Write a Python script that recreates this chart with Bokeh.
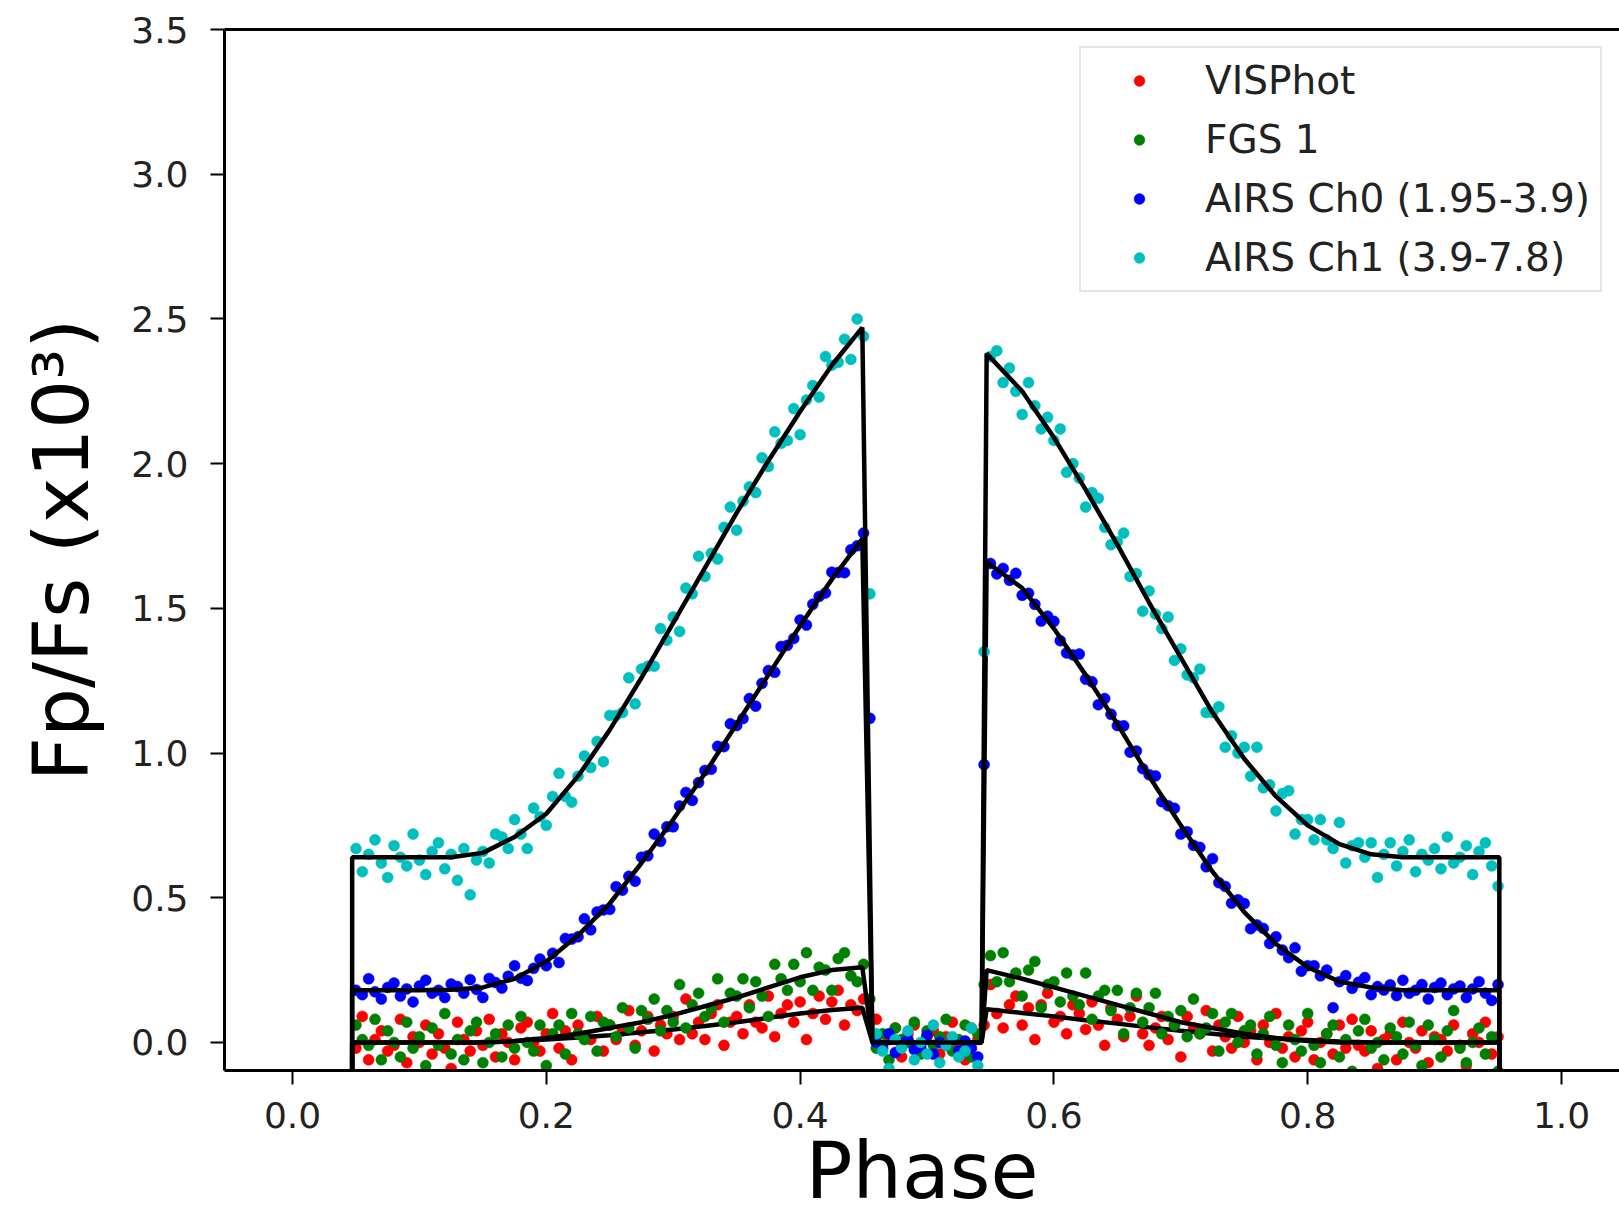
from bokeh.plotting import figure
from bokeh.models import Range1d, LinearAxis, FixedTicker, PrintfTickFormatter, Legend, LegendItem
from bokeh.embed import file_html
from bokeh.resources import INLINE

# ---------------- data ----------------
phase = [
    0.050, 0.055, 0.060, 0.065, 0.070, 0.075, 0.080, 0.085, 0.090, 0.095,
    0.100, 0.105, 0.110, 0.115, 0.120, 0.125, 0.130, 0.135, 0.140, 0.145,
    0.150, 0.155, 0.160, 0.165, 0.170, 0.175, 0.180, 0.185, 0.190, 0.195,
    0.200, 0.205, 0.210, 0.215, 0.220, 0.225, 0.230, 0.235, 0.240, 0.245,
    0.250, 0.255, 0.260, 0.265, 0.270, 0.275, 0.280, 0.285, 0.290, 0.295,
    0.300, 0.305, 0.310, 0.315, 0.320, 0.325, 0.330, 0.335, 0.340, 0.345,
    0.350, 0.355, 0.360, 0.365, 0.370, 0.375, 0.380, 0.385, 0.390, 0.395,
    0.400, 0.405, 0.410, 0.415, 0.420, 0.425, 0.430, 0.435, 0.440, 0.445,
    0.450, 0.455, 0.460, 0.465, 0.470, 0.475, 0.480, 0.485, 0.490, 0.495,
    0.500, 0.505, 0.510, 0.515, 0.520, 0.525, 0.530, 0.535, 0.540, 0.545,
    0.550, 0.555, 0.560, 0.565, 0.570, 0.575, 0.580, 0.585, 0.590, 0.595,
    0.600, 0.605, 0.610, 0.615, 0.620, 0.625, 0.630, 0.635, 0.640, 0.645,
    0.650, 0.655, 0.660, 0.665, 0.670, 0.675, 0.680, 0.685, 0.690, 0.695,
    0.700, 0.705, 0.710, 0.715, 0.720, 0.725, 0.730, 0.735, 0.740, 0.745,
    0.750, 0.755, 0.760, 0.765, 0.770, 0.775, 0.780, 0.785, 0.790, 0.795,
    0.800, 0.805, 0.810, 0.815, 0.820, 0.825, 0.830, 0.835, 0.840, 0.845,
    0.850, 0.855, 0.860, 0.865, 0.870, 0.875, 0.880, 0.885, 0.890, 0.895,
    0.900, 0.905, 0.910, 0.915, 0.920, 0.925, 0.930, 0.935, 0.940, 0.945,
    0.950,
]

visphot = [
    -0.02, 0.09, -0.06, 0.01, 0.04, -0.03, -0.01, 0.08, -0.07, 0.02, 0.0, 0.06, -0.04, 0.03, -0.02, -0.09, 0.07, 0.01, -0.03, 0.04, -0.01,
    0.08, -0.05, 0.03, 0.0, -0.06, 0.05, 0.07, 0.0, -0.03, 0.03, 0.10, -0.02, 0.04, -0.06, 0.06, 0.02, 0.01, 0.09, -0.03, 0.06,
    0.01, 0.04, 0.11, -0.01, 0.04, 0.09, -0.03, 0.06, 0.03, 0.09, 0.01, 0.15, 0.03, 0.07, 0.01, 0.10, 0.13, -0.01, 0.07, 0.09,
    0.03, 0.13, 0.07, 0.05, 0.16, 0.02, 0.10, 0.13, 0.07, 0.14, 0.01, 0.10, 0.16, 0.08, 0.14, 0.18, 0.06, 0.13, 0.11, 0.15,
    0.08,
    0.08, -0.01, 0.01, 0.05, -0.05, 0.03, 0.06, -0.02, 0.02, 0.04, -0.04, 0.02, 0.07, -0.01, -0.06, 0.05, 0.01,
    0.06,
    0.20, 0.10, 0.05, 0.13, 0.16, 0.06, 0.12, 0.01, 0.13, 0.17, 0.07, 0.09, 0.03, 0.13, 0.10, 0.045, 0.14, 0.06, -0.01, 0.12, 0.08,
    0.02, 0.09, 0.16, 0.03, -0.01, 0.05, 0.09, 0.01, 0.06, -0.05, 0.09, 0.05, 0.03, 0.11, -0.03, 0.06, 0.02, -0.02, 0.09, 0.0,
    0.04, -0.06, 0.06, 0.0, 0.10, -0.02, 0.02, -0.05, 0.04, 0.07, -0.06, 0.0, 0.03, -0.04, 0.06, -0.02, 0.08, -0.01, -0.03, 0.04,
    -0.09, 0.01, 0.03, -0.06, 0.07, 0.0, -0.02, 0.04, -0.07, 0.02, 0.01, -0.03, 0.06, -0.01, -0.08, 0.03, 0.0, 0.07, -0.04, 0.02,
]

fgs1 = [
    0.06, 0.01, -0.01, 0.08, -0.06, 0.04, 0.0, -0.05, 0.07, -0.02, 0.02, -0.08, 0.05, -0.01, 0.10, -0.04, 0.01, -0.06, 0.04, 0.07, -0.07,
    0.00, 0.03, -0.05, 0.06, -0.02, 0.09, 0.00, -0.03, 0.06, -0.08, 0.03, 0.06, -0.04, 0.10, 0.03, 0.01, 0.09, -0.03, 0.07, 0.06,
    0.02, 0.12, 0.05, -0.02, 0.11, 0.08, 0.15, 0.04, 0.11, 0.07, 0.20, 0.05, 0.13, 0.17, 0.09, 0.12, 0.22, 0.07, 0.17, 0.16,
    0.22, 0.12, 0.21, 0.16, 0.09, 0.27, 0.22, 0.18, 0.27, 0.21, 0.31, 0.18, 0.26, 0.25, 0.18, 0.29, 0.31, 0.23, 0.21, 0.27,
    0.15,
    -0.02, 0.03, -0.06, 0.05, 0.01, 0.0, 0.07, -0.04, 0.04, -0.01, 0.02, 0.08, -0.03, 0.01, 0.06, -0.05, 0.03,
    0.20,
    0.30, 0.21, 0.31, 0.21, 0.24, 0.16, 0.25, 0.28, 0.12, 0.20, 0.21, 0.14, 0.24, 0.16, 0.13, 0.24, 0.08, 0.16, 0.18, 0.11, 0.18,
    0.03, 0.12, 0.17, 0.07, 0.12, 0.17, 0.03, 0.09, 0.06, 0.11, 0.02, 0.15, 0.03, 0.05, 0.10, -0.03, 0.07, 0.10, 0.0, 0.04,
    0.06, -0.04, 0.03, 0.09, -0.01, -0.07, 0.06, 0.01, -0.03, 0.10, -0.01, -0.07, 0.03, 0.06, -0.05, 0.01, -0.10, 0.04, 0.08, -0.02,
    0.0, -0.06, 0.05, 0.02, -0.04, 0.07, -0.01, -0.08, 0.06, 0.01, -0.05, 0.04, 0.11, -0.02, -0.07, 0.0, 0.05, -0.04, 0.02, -0.10,
]

airs_ch0 = [
    0.18, 0.165, 0.22, 0.175, 0.15, 0.19, 0.205, 0.16, 0.185, 0.14, 0.195, 0.215, 0.17, 0.18, 0.155,
    0.202, 0.193, 0.17, 0.217, 0.183, 0.155, 0.221, 0.207, 0.188, 0.229, 0.265, 0.222, 0.214, 0.256, 0.288, 0.265,
    0.308, 0.276, 0.359, 0.357, 0.365, 0.427, 0.389, 0.451, 0.458, 0.46, 0.538, 0.526, 0.574, 0.557, 0.64, 0.645, 0.72, 0.695, 0.745, 0.745,
    0.817, 0.864, 0.836, 0.898, 0.94, 0.944, 1.023, 1.022, 1.101, 1.095, 1.119, 1.188, 1.162, 1.241, 1.285, 1.279, 1.368, 1.372, 1.396, 1.46,
    1.442, 1.514, 1.541, 1.553, 1.625, 1.624, 1.623, 1.702, 1.716, 1.76,
    1.12,
    0.0, -0.02, 0.03, -0.035, -0.005, 0.01, -0.025, -0.015, 0.025, -0.04, 0.0, -0.01, 0.015, -0.03, 0.005, -0.02, -0.05,
    0.96,
    1.655, 1.619, 1.638, 1.597, 1.621, 1.545, 1.552, 1.514, 1.456, 1.473, 1.455, 1.388, 1.346, 1.339, 1.342, 1.255, 1.246, 1.167, 1.188, 1.134, 1.095,
    1.094, 1.003, 1.007, 0.946, 0.925, 0.921, 0.832, 0.818, 0.809, 0.72, 0.728, 0.681, 0.674, 0.607, 0.635, 0.552, 0.539, 0.481, 0.493, 0.48,
    0.393, 0.406, 0.394, 0.342, 0.365, 0.319, 0.293, 0.327, 0.246, 0.265, 0.265, 0.23, 0.25, 0.12, 0.21, 0.231, 0.187, 0.208, 0.224, 0.165,
    0.193, 0.181, 0.199, 0.162, 0.215, 0.17, 0.18, 0.2, 0.15, 0.19, 0.205, 0.165, 0.185, 0.195, 0.155, 0.185, 0.21, 0.17, 0.145, 0.2,
]

airs_ch1 = [
    0.67, 0.59, 0.65, 0.70, 0.62, 0.57, 0.68, 0.64, 0.61, 0.72, 0.63, 0.58, 0.66, 0.69, 0.60, 0.65, 0.56,
    0.67, 0.51, 0.63, 0.66, 0.62, 0.72, 0.71, 0.67, 0.77, 0.72, 0.67, 0.81, 0.78, 0.75,
    0.85, 0.93, 0.85, 0.83, 0.92, 0.99, 0.95, 1.04, 0.97, 1.13, 1.13, 1.14, 1.26, 1.17, 1.29, 1.30, 1.30, 1.43, 1.39, 1.47,
    1.42, 1.57, 1.55, 1.68, 1.61, 1.69, 1.67, 1.78, 1.85, 1.77, 1.87, 1.92, 1.90, 2.02, 1.99, 2.11, 2.07, 2.08, 2.19, 2.10,
    2.22, 2.27, 2.23, 2.37, 2.34, 2.35, 2.43, 2.36, 2.50, 2.44,
    1.55,
    0.03, -0.03, -0.09, 0.01, -0.02, 0.04, -0.06, 0.00, -0.04, 0.06, -0.07, -0.01, 0.02, -0.05, -0.03, 0.05, -0.08,
    1.35,
    2.37, 2.39, 2.28, 2.33, 2.25, 2.17, 2.28, 2.20, 2.12, 2.16, 2.08, 2.12, 1.97, 2.00, 1.95, 1.85, 1.90, 1.88, 1.78, 1.72, 1.73,
    1.76, 1.61, 1.62, 1.49, 1.56, 1.48, 1.43, 1.47, 1.32, 1.36, 1.27, 1.26, 1.29, 1.14, 1.14, 1.16, 1.02, 1.06, 1.00, 1.02,
    0.92, 1.02, 0.88, 0.89, 0.80, 0.86, 0.87, 0.72, 0.77, 0.77, 0.70, 0.77, 0.70, 0.67, 0.76, 0.62, 0.68, 0.69, 0.64, 0.69,
    0.57, 0.65, 0.69, 0.61, 0.66, 0.70, 0.59, 0.65, 0.63, 0.67, 0.60, 0.71, 0.62, 0.64, 0.68, 0.58, 0.66, 0.69, 0.61, 0.54,
]

# model curves (black lines)
model_phase = [0.0, 0.0465, 0.047, 0.075, 0.10, 0.125, 0.15, 0.175, 0.20, 0.225, 0.25, 0.275, 0.30,
               0.325, 0.35, 0.375, 0.40, 0.425, 0.449, 0.457, 0.50, 0.543, 0.547, 0.575, 0.60, 0.625,
               0.65, 0.675, 0.70, 0.725, 0.75, 0.775, 0.80, 0.825, 0.85, 0.875, 0.90, 0.925, 0.951,
               0.9515, 1.0]
model_visphot = [-15, -15, 0, 0, 0, 0, 0, 0.004, 0.01, 0.017, 0.025, 0.035, 0.045, 0.057, 0.07, 0.085,
                 0.10, 0.112, 0.12, 0, 0, 0, 0.115, 0.102, 0.09, 0.077, 0.065, 0.052, 0.04, 0.03, 0.02,
                 0.013, 0.008, 0.003, 0, 0, 0, 0, 0, -15, -15]
model_fgs1 = [-15, -15, 0, 0, 0, 0, 0, 0.005, 0.015, 0.03, 0.05, 0.07, 0.095, 0.125, 0.155, 0.19,
              0.225, 0.25, 0.26, 0, 0, 0, 0.25, 0.22, 0.19, 0.16, 0.13, 0.10, 0.07, 0.05, 0.03,
              0.015, 0.005, 0, 0, 0, 0, 0, 0, -15, -15]
model_ch0 = [-15, -15, 0.18, 0.18, 0.18, 0.182, 0.19, 0.22, 0.28, 0.37, 0.48, 0.62, 0.77, 0.93, 1.10,
             1.27, 1.44, 1.60, 1.74, 0, 0, 0, 1.66, 1.57, 1.43, 1.27, 1.10, 0.92, 0.75, 0.59, 0.45,
             0.34, 0.26, 0.21, 0.19, 0.18, 0.18, 0.18, 0.18, -15, -15]
model_ch1 = [-15, -15, 0.64, 0.64, 0.64, 0.64, 0.655, 0.71, 0.79, 0.92, 1.08, 1.26, 1.45, 1.64, 1.83,
             2.01, 2.18, 2.34, 2.47, 0, 0, 0, 2.38, 2.25, 2.09, 1.91, 1.72, 1.52, 1.33, 1.14, 0.98,
             0.85, 0.75, 0.685, 0.65, 0.64, 0.64, 0.64, 0.64, -15, -15]

series_names = ["VISPhot", "FGS 1", "AIRS Ch0 (1.95-3.9)", "AIRS Ch1 (3.9-7.8)"]
series_values = [visphot, fgs1, airs_ch0, airs_ch1]
model_values = [model_visphot, model_fgs1, model_ch0, model_ch1]
series_colors = ["#ff0000", "#008000", "#0000ff", "#00bfbf"]

x_ticks = [0.0, 0.2, 0.4, 0.6, 0.8, 1.0]
y_ticks = [0.0, 0.5, 1.0, 1.5, 2.0, 2.5, 3.0, 3.5]
x_title = "Phase"
y_title = "Fp/Fs (x10³)"

# ---------------- figure ----------------
FONT = "DejaVu Sans"
p = figure(width=1619, height=1218, output_backend="svg", toolbar_location=None,
           x_range=Range1d(-0.0536, 1.0457), y_range=Range1d(-0.097, 3.5),
           min_border_left=224, min_border_right=0, min_border_top=29, min_border_bottom=148,
           background_fill_color="white", border_fill_color="white")
p.grid.visible = False
p.outline_line_color = None

legend_items = []
for name, vals, mvals, col in zip(series_names, series_values, model_values, series_colors):
    n = min(len(phase), len(vals))
    r = p.scatter(phase[:n], vals[:n], size=11, fill_color=col, line_color=col, line_width=0.5)
    p.line(model_phase, mvals, line_color="black", line_width=4.5)
    legend_items.append(LegendItem(label=name, renderers=[r]))

for ax in (p.xaxis[0], p.yaxis[0]):
    ax.axis_line_width = 3
    ax.axis_line_color = "black"
    ax.major_tick_out = 14
    ax.major_tick_in = 0
    ax.major_tick_line_width = 2
    ax.minor_tick_line_color = None
    ax.major_label_text_font = FONT
    ax.major_label_text_font_size = "36px"
    ax.major_label_text_color = "#222222"
    ax.axis_label_text_font = FONT
    ax.axis_label_text_font_style = "normal"
    ax.axis_label_text_color = "black"
    ax.formatter = PrintfTickFormatter(format="%.1f")

p.xaxis[0].ticker = FixedTicker(ticks=x_ticks)
p.yaxis[0].ticker = FixedTicker(ticks=y_ticks)
p.xaxis[0].major_label_standoff = 17
p.yaxis[0].major_label_standoff = 22
p.xaxis[0].axis_label = x_title
p.xaxis[0].axis_label_text_font_size = "78px"
p.xaxis[0].axis_label_standoff = -5
p.yaxis[0].axis_label = y_title
p.yaxis[0].axis_label_text_font_size = "77px"
p.yaxis[0].axis_label_standoff = 22

top = LinearAxis(ticker=FixedTicker(ticks=[]), axis_line_width=3, axis_line_color="black",
                 major_tick_out=0, major_tick_in=0, major_label_standoff=0,
                 major_tick_line_color=None, minor_tick_line_color=None,
                 major_label_text_font_size="0px")
p.add_layout(top, "above")

legend = Legend(items=legend_items, location=(855, 778))
legend.label_text_font = FONT
legend.label_text_font_size = "39px"
legend.label_text_color = "#222222"
legend.glyph_width = 96
legend.glyph_height = 27
legend.label_height = 44
legend.label_standoff = 18
legend.spacing = 14
legend.padding = 10
legend.margin = 0
legend.border_line_color = "#cccccc"
legend.border_line_width = 2
legend.background_fill_alpha = 0.8
p.add_layout(legend)

open("out.html", "w").write(file_html(p, INLINE))
